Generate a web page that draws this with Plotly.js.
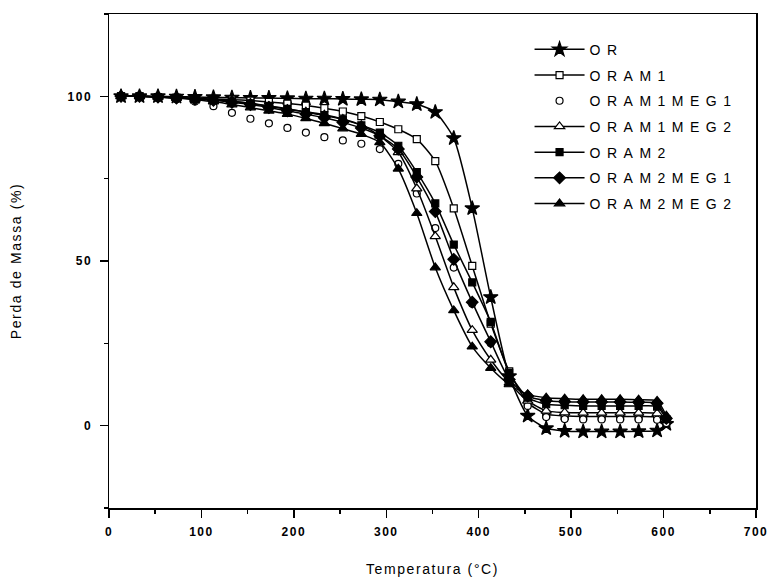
<!DOCTYPE html>
<html>
<head>
<meta charset="utf-8">
<script src="https://cdn.plot.ly/plotly-3.0.1.min.js"></script>
<style>
  html, body { margin: 0; padding: 0; background: #fff; }
  #chart { width: 771px; height: 580px; }
  .legendtext { letter-spacing: 6.5px; }
  .xtitle, .ytitle { letter-spacing: 1.6px; }
  .xtick text, .ytick text { letter-spacing: 1.5px; }
</style>
</head>
<body>
<div id="chart"></div>
<script>
// Temperature of each sampled point (°C)
const temperatura = [13, 33, 53, 73, 93, 113, 133, 153, 173, 193, 213, 233, 253, 273, 293,
                     313, 333, 353, 373, 393, 413, 433, 453, 473, 493, 513, 533, 553, 573, 593, 603];

// Residual mass (%) for each sample
const OR        = [100, 100, 100, 99.9, 99.8, 99.7, 99.6, 99.5, 99.5, 99.4, 99.3, 99.3, 99.2, 99.1, 99,
                   98.4, 97.6, 95.2, 87.3, 66, 39, 15, 3, -0.8, -1.6, -1.8, -1.8, -1.8, -1.7, -1.5, 0.5];
const ORAM1     = [100, 100, 99.8, 99.6, 99.4, 99.2, 99, 98.7, 98.3, 97.8, 97.2, 96.4, 95.4, 94, 92.2,
                   90, 87, 80.3, 66, 48.5, 31, 16.5, 7, 3.5, 3, 2.8, 2.8, 2.8, 2.8, 2.6, 1];
const ORAM1MEG1 = [100, 100, 99.6, 99.1, 98.4, 97, 95, 93.2, 91.8, 90.4, 89, 87.6, 86.6, 85.6, 84,
                   79.5, 70.5, 60, 48, 37, 25, 14, 6, 2.6, 2, 1.9, 1.9, 1.9, 1.9, 1.8, 0.8];
const ORAM1MEG2 = [100, 100, 99.8, 99.5, 99.3, 99, 98.5, 97.8, 97, 96.1, 95.3, 94.4, 93.1, 91.2, 88,
                   83, 72, 57.5, 42, 29, 20, 13, 7.5, 4.5, 4, 3.9, 3.9, 3.9, 3.9, 3.7, 1.8];
const ORAM2     = [100, 100, 99.8, 99.5, 99.3, 99, 98.5, 97.9, 97.1, 96.2, 95.2, 94.2, 93, 91.2, 89,
                   85, 77, 67.5, 55, 43.5, 31.5, 16, 8.5, 6.5, 6.2, 6, 6, 6, 6, 5.8, 2];
const ORAM2MEG1 = [100, 100, 99.8, 99.5, 99.2, 98.8, 98.2, 97.5, 96.6, 95.6, 94.6, 93.5, 92.1, 90.4, 88,
                   84, 75.5, 65, 50.5, 37.5, 25.5, 14, 9, 7.6, 7.3, 7.2, 7.2, 7.2, 7.1, 6.8, 2.2];
const ORAM2MEG2 = [100, 100, 99.8, 99.5, 99, 98.4, 97.5, 96.6, 95.6, 94.6, 93.3, 91.8, 90.2, 88.5, 86,
                   78, 64.5, 48, 35, 24, 17.5, 12.5, 9.5, 8.5, 8.2, 8, 8, 8, 7.9, 7.5, 3];

const seriesNames = ['OR', 'ORAM1', 'ORAM1MEG1', 'ORAM1MEG2', 'ORAM2', 'ORAM2MEG1', 'ORAM2MEG2'];
const seriesValues = [OR, ORAM1, ORAM1MEG1, ORAM1MEG2, ORAM2, ORAM2MEG1, ORAM2MEG2];

// marker style per series: [symbol, fill, size, mode]
const styles = [
  ['star',        '#000', 11, 'lines+markers'],
  ['square',      '#fff', 7,  'lines+markers'],
  ['circle',      '#fff', 7,  'markers'],
  ['triangle-up', '#fff', 9,  'lines+markers'],
  ['square',      '#000', 7,  'lines+markers'],
  ['diamond',     '#000', 9,  'lines+markers'],
  ['triangle-up', '#000', 9,  'lines+markers']
];

const traces = seriesNames.map((name, i) => ({
  type: 'scatter',
  mode: styles[i][3],
  name: name,
  legendgroup: name,
  x: temperatura,
  y: seriesValues[i],
  line: { color: '#000', width: 1.5, shape: 'spline', smoothing: 0.6 },
  marker: {
    symbol: styles[i][0],
    size: styles[i][2],
    color: styles[i][1],
    line: { color: '#000', width: 1.2 }
  }
}));

const sansFamily = 'Liberation Sans, Arial, sans-serif';
const axisFont = { family: sansFamily, size: 12, color: '#000', weight: 'bold' };

const layout = {
  width: 771,
  height: 580,
  margin: { l: 109, r: 15, t: 14, b: 72 },
  paper_bgcolor: '#fff',
  plot_bgcolor: '#fff',
  font: { family: sansFamily, color: '#000' },
  showlegend: true,
  legend: {
    x: 0.65, y: 0.96, xanchor: 'left', yanchor: 'top',
    bgcolor: 'rgba(0,0,0,0)', borderwidth: 0,
    traceorder: 'grouped', tracegroupgap: 4.5,
    itemwidth: 50,
    font: { family: sansFamily, size: 14, color: '#000' }
  },
  xaxis: {
    range: [0, 700],
    tick0: 0, dtick: 100,
    ticks: 'outside', ticklen: 8, tickwidth: 1.5, tickcolor: '#000',
    minor: { ticks: 'outside', dtick: 50, ticklen: 4, tickwidth: 1.5, tickcolor: '#000' },
    showline: true, linecolor: '#000', linewidth: 1.5, mirror: true,
    showgrid: false, zeroline: false,
    tickfont: axisFont,
    ticklabelstandoff: 4,
    title: { text: 'Temperatura (°C)', standoff: 26,
             font: { family: sansFamily, size: 14, color: '#000' } }
  },
  yaxis: {
    range: [-25, 125],
    tick0: 0, dtick: 50,
    ticks: 'outside', ticklen: 8, tickwidth: 1.5, tickcolor: '#000',
    minor: { ticks: 'outside', dtick: 25, ticklen: 4, tickwidth: 1.5, tickcolor: '#000' },
    showline: true, linecolor: '#000', linewidth: 1.5, mirror: true,
    showgrid: false, zeroline: false,
    tickfont: axisFont,
    ticklabelstandoff: 5,
    title: { text: 'Perda de Massa (%)', standoff: 42,
             font: { family: sansFamily, size: 14, color: '#000' } }
  }
};

Plotly.newPlot('chart', traces, layout, { displayModeBar: false, staticPlot: true });
</script>
</body>
</html>
